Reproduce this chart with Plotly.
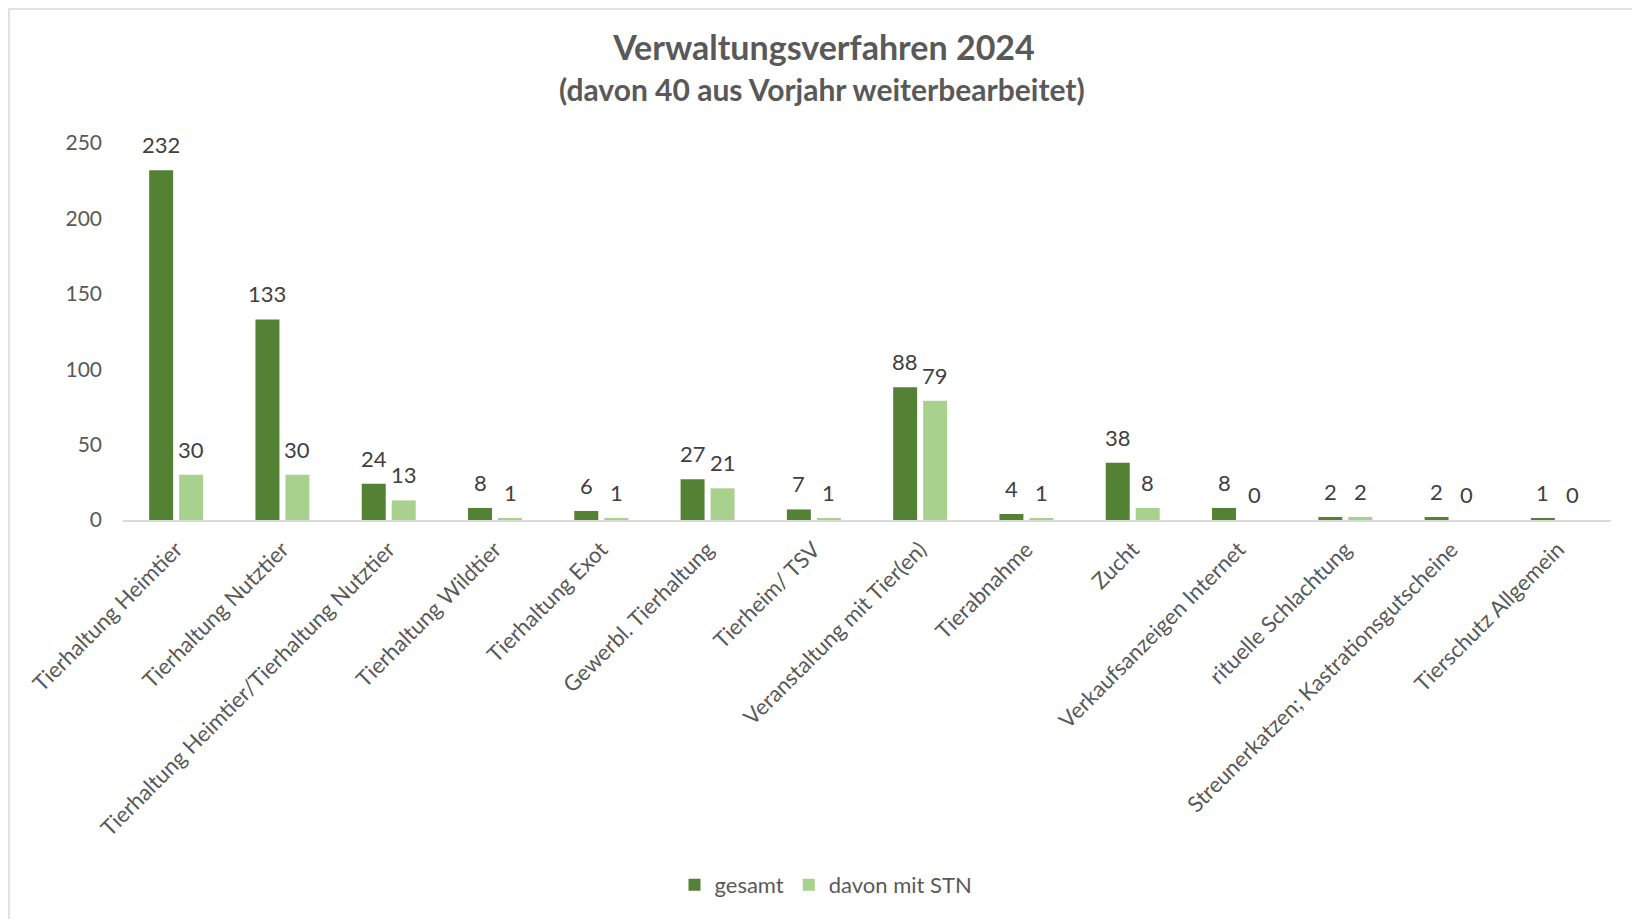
import plotly.graph_objects as go

categories = [
    "Tierhaltung Heimtier",
    "Tierhaltung Nutztier",
    "Tierhaltung Heimtier/Tierhaltung Nutztier",
    "Tierhaltung Wildtier",
    "Tierhaltung Exot",
    "Gewerbl. Tierhaltung",
    "Tierheim/ TSV",
    "Veranstaltung mit Tier(en)",
    "Tierabnahme",
    "Zucht",
    "Verkaufsanzeigen Internet",
    "rituelle Schlachtung",
    "Streunerkatzen; Kastrationsgutscheine",
    "Tierschutz Allgemein",
]
gesamt = [232, 133, 24, 8, 6, 27, 7, 88, 4, 38, 8, 2, 2, 1]
davon_mit_stn = [30, 30, 13, 1, 1, 21, 1, 79, 1, 8, 0, 2, 0, 0]
y_ticks = [0, 50, 100, 150, 200, 250]

title_text = "Verwaltungsverfahren 2024"
subtitle_text = "(davon 40 aus Vorjahr weiterbearbeitet)"

DARK = "#548235"
LIGHT = "#A9D18E"
FONT = "Lato"
OFF = 8  # default body margin of the page
W, H = 1640 - OFF, 919 - OFF
ML, MR, MT, MB = 123 - OFF, 29, 143 - OFF, 399
PW = W - ML - MR
PH = H - MT - MB


def px_x(page_x):
    return (page_x - OFF - ML) / PW


def px_y(page_y):
    return (MT + PH - (page_y - OFF)) / PH


fig = go.Figure()
fig.add_trace(go.Bar(name="gesamt", x=categories, y=gesamt, marker_color=DARK,
                     marker_line_width=0))
fig.add_trace(go.Bar(name="davon mit STN", x=categories, y=davon_mit_stn,
                     marker_color=LIGHT, marker_line_width=0))

annotations = []
for series, shift in ((gesamt, -15), (davon_mit_stn, 15)):
    for c, v in zip(categories, series):
        annotations.append(dict(x=c, y=v, xref="x", yref="y", text=str(v),
                                showarrow=False, xanchor="center", yanchor="bottom",
                                xshift=shift, yshift=10,
                                font=dict(family=FONT, size=22, color="#404040")))

annotations.append(dict(text=f"<b>{subtitle_text}</b>", xref="paper", yref="paper",
                        x=px_x(822), y=px_y(89), showarrow=False,
                        xanchor="center", yanchor="middle",
                        font=dict(family=FONT, size=30, color="#595959")))

fig.update_layout(
    width=W, height=H,
    margin=dict(l=ML, r=MR, t=MT, b=MB),
    paper_bgcolor="white", plot_bgcolor="white",
    barmode="group", bargap=0.436, bargroupgap=0.2,
    title=dict(text=f"<b>{title_text}</b>", x=(824 - OFF) / W, xanchor="center",
               y=1 - (48 - OFF) / H, yanchor="middle", yref="container",
               font=dict(family=FONT, size=34, color="#595959")),
    showlegend=True,
    legend=dict(orientation="h", x=px_x(826), xanchor="center",
                y=px_y(885), yanchor="middle",
                font=dict(family=FONT, size=22, color="#595959"),
                itemwidth=30, traceorder="normal"),
    annotations=annotations,
    shapes=[dict(type="rect", xref="paper", yref="paper",
                 x0=px_x(OFF + 1), x1=px_x(1638),
                 y0=px_y(940), y1=px_y(OFF + 1),
                 line=dict(color="#D9D9D9", width=1.5), fillcolor="rgba(0,0,0,0)",
                 layer="below")],
)
fig.update_xaxes(showline=True, linecolor="#D9D9D9", linewidth=2, showgrid=False,
                 ticks="", tickangle=-45, ticklabelstandoff=6,
                 tickfont=dict(family=FONT, size=22, color="#595959"))
fig.update_yaxes(range=[0, 250], tickvals=y_ticks, showgrid=False, zeroline=False,
                 showline=False, ticks="", ticklabelstandoff=20,
                 tickfont=dict(family=FONT, size=21, color="#595959"))

fig.write_html("out.html")
